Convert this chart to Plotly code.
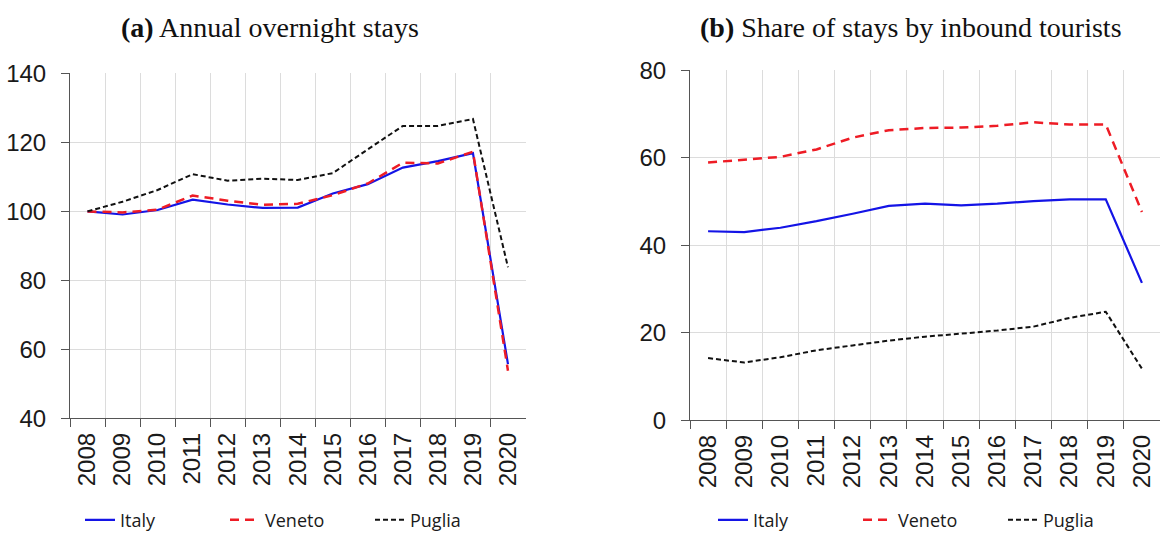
import plotly.graph_objects as go

years = ["2008", "2009", "2010", "2011", "2012", "2013", "2014",
         "2015", "2016", "2017", "2018", "2019", "2020"]

# (a) Annual overnight stays (index, 2008 = 100)
stays_italy = [100.0, 99.1, 100.4, 103.4, 102.0, 101.0, 101.1, 105.2, 107.9, 112.7, 114.6, 116.9, 55.7]
stays_veneto = [100.0, 99.7, 100.5, 104.6, 103.1, 101.9, 102.2, 104.7, 108.1, 114.1, 113.9, 117.3, 53.8]
stays_puglia = [100.0, 102.8, 106.2, 110.8, 108.9, 109.5, 109.1, 111.1, 118.0, 124.8, 124.8, 126.8, 83.8]

# (b) Share of stays by inbound tourists (%)
share_italy = [43.2, 43.0, 44.0, 45.5, 47.2, 49.0, 49.5, 49.1, 49.5, 50.1, 50.5, 50.5, 31.4]
share_veneto = [58.9, 59.5, 60.2, 61.9, 64.6, 66.3, 66.8, 66.9, 67.3, 68.1, 67.6, 67.6, 47.6]
share_puglia = [14.2, 13.2, 14.4, 16.0, 17.1, 18.2, 19.1, 19.8, 20.5, 21.4, 23.4, 24.8, 11.8]

series_names = ["Italy", "Veneto", "Puglia"]
colors = ["#1414e6", "#ee1c25", "#111111"]
widths = [2.2, 2.5, 2]
dashes = ["solid", "9px,6px", "5px,3px"]

W, H = 1160, 539


def px(x):
    return x / W


def py(y):
    return 1 - y / H


fig = go.Figure()

left = [stays_italy, stays_veneto, stays_puglia]
right = [share_italy, share_veneto, share_puglia]

for i, name in enumerate(series_names):
    fig.add_trace(go.Scatter(
        x=years, y=left[i], name=name, mode="lines",
        line=dict(color=colors[i], width=widths[i], dash=dashes[i]),
        xaxis="x", yaxis="y", legend="legend"))
for i, name in enumerate(series_names):
    fig.add_trace(go.Scatter(
        x=years, y=right[i], name=name, mode="lines",
        line=dict(color=colors[i], width=widths[i], dash=dashes[i]),
        xaxis="x2", yaxis="y2", legend="legend2"))

tick_font = dict(family="Liberation Sans, Arial, sans-serif", size=24, color="#1a1a1a")
grid_col = "#dcdcdc"
axis_col = "#555555"

xcommon = dict(type="category", tickson="boundaries", showgrid=True, gridcolor=grid_col,
               gridwidth=1, ticks="outside", ticklen=8, tickcolor=axis_col,
               showline=True, linecolor=axis_col, linewidth=1, tickangle=-90,
               tickfont=tick_font, automargin=False, fixedrange=True,
               ticklabelstandoff=4, zeroline=False, range=[-0.5, 12.5])
ycommon = dict(showgrid=True, gridcolor=grid_col, gridwidth=1, ticks="outside", ticklen=8,
               tickcolor=axis_col, showline=True, linecolor=axis_col, linewidth=1,
               tickfont=tick_font, automargin=False, zeroline=False, dtick=20,
               ticklabelstandoff=10)

legend_font = dict(family="Open Sans, sans-serif", size=18, color="#1a1a1a")

fig.update_layout(
    width=W, height=H,
    margin=dict(l=0, r=0, t=0, b=0),
    paper_bgcolor="white", plot_bgcolor="white",
    xaxis=dict(domain=[px(70), px(525.5)], anchor="y", **xcommon),
    yaxis=dict(domain=[py(427), py(75)], anchor="x", range=[40, 140], **ycommon),
    xaxis2=dict(domain=[px(690), 1.0], anchor="y2", **xcommon),
    yaxis2=dict(domain=[py(429), py(71.7)], anchor="x2", range=[0, 80], **ycommon),
    legend=dict(orientation="h", x=px(80), y=py(531), xanchor="left", yanchor="middle",
                entrywidth=100, font=legend_font, bgcolor="rgba(0,0,0,0)"),
    legend2=dict(orientation="h", x=px(713), y=py(531), xanchor="left", yanchor="middle",
                 entrywidth=100, font=legend_font, bgcolor="rgba(0,0,0,0)"),
    annotations=[
        dict(text="<b>(a)</b> Annual overnight stays", x=px(270), y=py(28),
             xref="paper", yref="paper", xanchor="center", yanchor="middle", showarrow=False,
             font=dict(family="Liberation Serif, DejaVu Serif, serif", size=28, color="#111111")),
        dict(text="<b>(b)</b> Share of stays by inbound tourists", x=px(911), y=py(28),
             xref="paper", yref="paper", xanchor="center", yanchor="middle", showarrow=False,
             font=dict(family="Liberation Serif, DejaVu Serif, serif", size=28, color="#111111")),
    ],
)

fig.write_html(
    "out.html",
    config={"displayModeBar": False},
    post_script="document.body.style.margin='0';document.body.style.overflow='hidden';",
)
